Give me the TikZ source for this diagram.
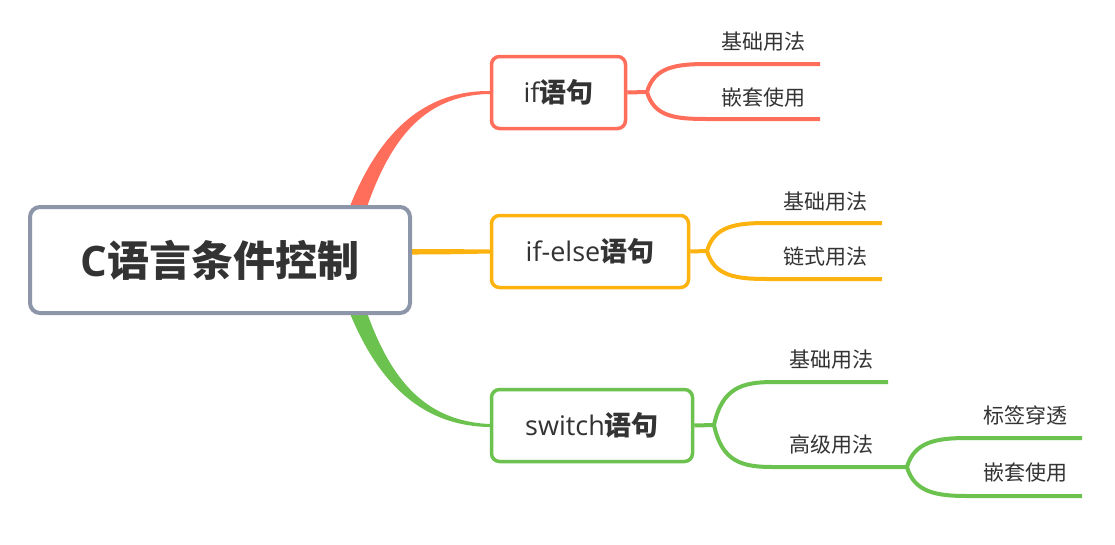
\documentclass[tikz,border=0pt]{standalone}
\usepackage{fontspec}
\setmainfont{Open Sans}
\newfontfamily\cjk{Noto Sans CJK SC}
\usetikzlibrary{backgrounds}
\definecolor{rootgray}{HTML}{8C96A8}
\definecolor{ifred}{HTML}{FF6E5A}
\definecolor{elseorange}{HTML}{FDB30F}
\definecolor{switchgreen}{HTML}{6CC24E}
\definecolor{txt}{HTML}{333333}
\tikzset{
  rootbox/.style={draw=rootgray, line width=4pt, rounded corners=10pt, fill=white,
    minimum width=380pt, minimum height=106pt, text=txt,
    font=\fontsize{42}{42}\selectfont\bfseries},
  topicbox/.style={draw=#1, line width=3.5pt, rounded corners=8pt, fill=white,
    minimum height=72pt, text=txt, font=\fontsize{27}{27}\selectfont},
  leaf/.style={text=txt, font=\cjk\fontsize{21}{21}\selectfont, inner sep=0pt},
  branch/.style={draw=#1, line width=4pt},
}
\begin{document}
\begin{tikzpicture}[x=1pt,y=-1pt]
      \useasboundingbox (0,0) rectangle (1115,544);
      \node[rootbox] (root) at (220,260) {C{\cjk 语言条件控制}};
      \node[topicbox=ifred, minimum width=134pt] (if) at (558.5,92.5) {if{\cjk\bfseries 语句}};
      \node[topicbox=elseorange, minimum width=197pt] (else) at (590,251.5) {if-else{\cjk\bfseries 语句}};
      \node[topicbox=switchgreen, minimum width=201pt] (sw) at (592,425.5) {switch{\cjk\bfseries 语句}};
      % main branches, tapered
      \begin{scope}[on background layer]
        \fill[ifred] (344,222) .. controls (373,140) and (418,90.5) .. ([yshift=1.5pt]if.west)
          -- ([yshift=-1.5pt]if.west) .. controls (422,95) and (387,142) .. (362,222) -- cycle;
        \fill[elseorange] (400,249) .. controls (440,249) .. ([yshift=2pt]else.west)
          -- ([yshift=-2pt]else.west) .. controls (440,254.5) .. (400,254.5) -- cycle;
        \fill[switchgreen] (344,298) .. controls (373,378) and (418,426) .. ([yshift=-1.5pt]sw.west)
          -- ([yshift=1.5pt]sw.west) .. controls (422,421) and (387,376) .. (362,298) -- cycle;
      \end{scope}
      % if
      \coordinate (ifs) at (647,92);
      \coordinate (if1e) at (820,64);
      \coordinate (if2e) at (820,119);
      \node[leaf] (if1) at (763,42) {基础用法};
      \node[leaf] (if2) at (763,98) {嵌套使用};
      \draw[branch=ifred] (if.east) -- (ifs);
      \draw[branch=ifred] (ifs) .. controls (654,67) and (676,64) .. (707,64) -- (if1e);
      \draw[branch=ifred] (ifs) .. controls (654,117) and (676,119) .. (707,119) -- (if2e);
      % if-else
      \coordinate (elses) at (707,251);
      \coordinate (else1e) at (882,223);
      \coordinate (else2e) at (882,279);
      \node[leaf] (else1) at (825,202) {基础用法};
      \node[leaf] (else2) at (825,257) {链式用法};
      \draw[branch=elseorange] (else.east) -- (elses);
      \draw[branch=elseorange] (elses) .. controls (714,226) and (736,223) .. (767,223) -- (else1e);
      \draw[branch=elseorange] (elses) .. controls (714,276) and (736,279) .. (767,279) -- (else2e);
      % switch
      \coordinate (sws) at (714,425);
      \coordinate (sw1e) at (888,382);
      \coordinate (sw2s) at (907,467);
      \node[leaf] (sw1) at (831,360) {基础用法};
      \node[leaf] (sw2) at (831,445) {高级用法};
      \draw[branch=switchgreen] (sw.east) -- (sws);
      \draw[branch=switchgreen] (sws) .. controls (722,388) and (742,382) .. (773,382) -- (sw1e);
      \draw[branch=switchgreen] (sws) .. controls (722,462) and (742,467) .. (773,467) -- (sw2s);
      % switch, second level
      \coordinate (sw21e) at (1082,438);
      \coordinate (sw22e) at (1082,496);
      \node[leaf] (sw21) at (1025,415) {标签穿透};
      \node[leaf] (sw22) at (1025,473) {嵌套使用};
      \draw[branch=switchgreen] (sw2s) .. controls (914,442) and (936,438) .. (967,438) -- (sw21e);
      \draw[branch=switchgreen] (sw2s) .. controls (914,492) and (936,496) .. (967,496) -- (sw22e);
\end{tikzpicture}
\end{document}
